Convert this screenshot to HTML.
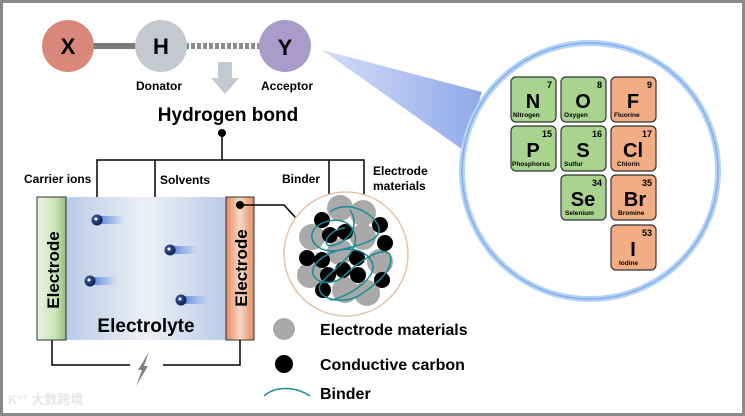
<!DOCTYPE html>
<html><head><meta charset="utf-8"><style>
html,body{margin:0;padding:0;background:#fff}
svg{display:block}
text{font-family:"Liberation Sans",Arial,sans-serif;font-weight:bold}
</style></head><body>
<svg width="745" height="416" viewBox="0 0 745 416" xmlns="http://www.w3.org/2000/svg">
<defs>
<linearGradient id="ely" x1="0" x2="1" y1="0" y2="0">
<stop offset="0" stop-color="#b9cbe8"/><stop offset="0.5" stop-color="#eef0f4"/><stop offset="1" stop-color="#b9cbe8"/></linearGradient>
<linearGradient id="gel" x1="0" x2="1"><stop offset="0" stop-color="#e8f3e0"/><stop offset="0.6" stop-color="#cfe6bf"/><stop offset="1" stop-color="#8fc07a"/></linearGradient>
<linearGradient id="oel" x1="0" x2="1"><stop offset="0" stop-color="#e58a5f"/><stop offset="0.5" stop-color="#f7d9c6"/><stop offset="1" stop-color="#e58a5f"/></linearGradient>
<linearGradient id="tail" x1="0" x2="1"><stop offset="0" stop-color="#3d6fd6" stop-opacity="0.9"/><stop offset="1" stop-color="#6c98e8" stop-opacity="0"/></linearGradient>
<linearGradient id="cone" x1="0" x2="1"><stop offset="0" stop-color="#cbd7f5"/><stop offset="1" stop-color="#7d9ae6"/></linearGradient>
<radialGradient id="ion" cx="0.35" cy="0.35" r="0.7"><stop offset="0" stop-color="#3b5fa8"/><stop offset="1" stop-color="#0a1d4f"/></radialGradient>
</defs>
<rect x="1.5" y="1.5" width="742" height="413" fill="#fff" stroke="#8a8a8a" stroke-width="3"/>

<!-- cone -->
<polygon points="322,50 482,92 463,150" fill="url(#cone)" opacity="0.85"/>
<!-- big circle -->
<circle cx="590" cy="171" r="128" fill="#fff" stroke="#b6d2f5" stroke-width="6"/>
<circle cx="590" cy="171" r="128" fill="none" stroke="#7fb0ee" stroke-width="1.5"/>

<!-- molecule -->
<rect x="90" y="43" width="50" height="6" fill="#7a7a7a"/>
<line x1="185" y1="46" x2="262" y2="46" stroke="#8a8a8a" stroke-width="6" stroke-dasharray="4,2"/>
<circle cx="68" cy="46" r="26" fill="#d9877a"/>
<circle cx="161" cy="46" r="26" fill="#c5c9cf"/>
<circle cx="285" cy="46" r="26" fill="#a99cc9"/>
<text x="68" y="54" font-size="22" text-anchor="middle">X</text>
<text x="161" y="54" font-size="22" text-anchor="middle">H</text>
<text x="285" y="55" font-size="22" text-anchor="middle">Y</text>
<text x="159" y="90" font-size="12" text-anchor="middle">Donator</text>
<text x="287" y="90" font-size="12" text-anchor="middle">Acceptor</text>
<polygon points="218,62 232,62 232,78 239,78 225,94 211,78 218,78" fill="#c3c9d1"/>
<text x="228" y="121" font-size="19" text-anchor="middle">Hydrogen bond</text>

<!-- tree -->
<circle cx="222" cy="133" r="4" fill="#000"/>
<g stroke="#000" stroke-width="1.5" fill="none">
<line x1="222" y1="133" x2="222" y2="160"/>
<polyline points="97,214 97,160 364,160 364,205"/>
<line x1="155" y1="160" x2="155" y2="222"/>
<line x1="329" y1="160" x2="329" y2="205"/>
</g>
<polygon points="93,212 101,212 97,219" fill="#000"/>
<polygon points="151,220 159,220 155,227" fill="#000"/>
<polygon points="325,201 333,201 329,209" fill="#000"/>
<polygon points="360,201 368,201 364,209" fill="#000"/>
<text x="24" y="183" font-size="12">Carrier ions</text>
<text x="160" y="184" font-size="12">Solvents</text>
<text x="282" y="183" font-size="12">Binder</text>
<text x="373" y="175" font-size="12">Electrode</text>
<text x="373" y="190" font-size="12">materials</text>

<!-- cell -->
<rect x="66" y="197" width="160" height="143" fill="url(#ely)"/>
<rect x="37" y="197" width="29" height="143" fill="url(#gel)" stroke="#333" stroke-width="1"/>
<rect x="226" y="197" width="28" height="143" fill="url(#oel)" stroke="#333" stroke-width="1"/>
<text transform="translate(59,270) rotate(-90)" font-size="17" text-anchor="middle">Electrode</text>
<text transform="translate(247,268) rotate(-90)" font-size="17" text-anchor="middle">Electrode</text>
<text x="146" y="332" font-size="19" text-anchor="middle">Electrolyte</text>
<g>
<rect x="97" y="216" width="28" height="8" rx="4" fill="url(#tail)"/>
<rect x="170" y="246" width="28" height="8" rx="4" fill="url(#tail)"/>
<rect x="90" y="277" width="28" height="8" rx="4" fill="url(#tail)"/>
<rect x="181" y="296" width="28" height="8" rx="4" fill="url(#tail)"/>
<circle cx="97" cy="220" r="5.5" fill="url(#ion)"/>
<circle cx="170" cy="250" r="5.5" fill="url(#ion)"/>
<circle cx="90" cy="281" r="5.5" fill="url(#ion)"/>
<circle cx="181" cy="300" r="5.5" fill="url(#ion)"/>
<g fill="#fff"><circle cx="96" cy="219" r="1.5"/><circle cx="169" cy="249" r="1.5"/><circle cx="89" cy="280" r="1.5"/><circle cx="180" cy="299" r="1.5"/></g>
</g>
<circle cx="240" cy="205" r="4" fill="#000"/>
<polyline points="240,205 284,205 296,218" fill="none" stroke="#000" stroke-width="1.5"/>
<polyline points="52,340 52,365 130,365" fill="none" stroke="#000" stroke-width="1.5"/>
<polyline points="163,365 240,365 240,340" fill="none" stroke="#000" stroke-width="1.5"/>
<polygon points="149,352 144,366 148,366 136,386 142,370 138,370" fill="#808080"/>

<!-- particle -->
<circle cx="346" cy="254" r="62" fill="#fff" stroke="#e5c3a8" stroke-width="1.5"/>
<g fill="#a9a9a9">
<circle cx="340" cy="208" r="13"/><circle cx="363" cy="213" r="13"/><circle cx="312" cy="237" r="13"/>
<circle cx="363" cy="237" r="13"/><circle cx="340" cy="252" r="13"/><circle cx="380" cy="262" r="13"/>
<circle cx="310" cy="275" r="13"/><circle cx="345" cy="290" r="13"/><circle cx="367" cy="293" r="13"/>
</g>
<g fill="#000">
<circle cx="322" cy="220" r="8"/><circle cx="330" cy="235" r="8"/><circle cx="345" cy="232" r="8"/>
<circle cx="380" cy="225" r="8"/><circle cx="385" cy="243" r="8"/><circle cx="307" cy="258" r="8"/>
<circle cx="322" cy="260" r="8"/><circle cx="357" cy="258" r="8"/><circle cx="343" cy="270" r="8"/>
<circle cx="328" cy="275" r="8"/><circle cx="358" cy="275" r="8"/><circle cx="382" cy="280" r="8"/>
<circle cx="323" cy="290" r="8"/>
</g>
<g fill="none" stroke="#1a8a96" stroke-width="1.5">
<path d="M330,212 C345,200 370,210 378,225 C385,240 360,245 340,250 C320,255 305,240 315,228 C325,218 350,215 355,235 C360,255 330,270 320,285 C315,300 345,305 360,295 C375,285 395,270 390,255 C385,245 360,260 345,275 C330,290 305,280 315,265 C325,250 360,240 372,262 C380,280 340,300 330,300"/>
<path d="M350,210 C360,225 350,240 335,245 C320,250 325,230 345,228"/>
</g>

<!-- legend -->
<circle cx="284" cy="329" r="11" fill="#a9a9a9"/>
<circle cx="284" cy="364" r="9" fill="#000"/>
<path d="M264,396 C275,386 295,386 310,396" fill="none" stroke="#1a8a96" stroke-width="1.5"/>
<text x="320" y="335" font-size="16">Electrode materials</text>
<text x="320" y="370" font-size="16">Conductive carbon</text>
<text x="320" y="399" font-size="16">Binder</text>

<!-- watermark -->
<text x="8" y="404" font-size="13" fill="#e6e6e6" style="font-family:'Liberation Sans','Noto Sans CJK SC',sans-serif">K°° 大数跨境</text>

<!-- periodic tiles -->
<g stroke="#333" stroke-width="1.2">
<rect x="511" y="77" width="45" height="45" rx="5" fill="#a9d48f"/>
<rect x="561" y="77" width="45" height="45" rx="5" fill="#a9d48f"/>
<rect x="611" y="77" width="45" height="45" rx="5" fill="#f3ad85"/>
<rect x="511" y="126" width="45" height="45" rx="5" fill="#a9d48f"/>
<rect x="561" y="126" width="45" height="45" rx="5" fill="#a9d48f"/>
<rect x="611" y="126" width="45" height="45" rx="5" fill="#f3ad85"/>
<rect x="561" y="175" width="45" height="45" rx="5" fill="#a9d48f"/>
<rect x="611" y="175" width="45" height="45" rx="5" fill="#f3ad85"/>
<rect x="611" y="225" width="45" height="45" rx="5" fill="#f3ad85"/>
</g>
<g font-size="9" text-anchor="end">
<text x="552" y="88">7</text><text x="602" y="88">8</text><text x="652" y="88">9</text>
<text x="552" y="137">15</text><text x="602" y="137">16</text><text x="652" y="137">17</text>
<text x="602" y="186">34</text><text x="652" y="186">35</text><text x="652" y="236">53</text>
</g>
<g font-size="20" text-anchor="middle">
<text x="533" y="108">N</text><text x="583" y="108">O</text><text x="633" y="108">F</text>
<text x="533" y="157">P</text><text x="583" y="157">S</text><text x="633" y="157">Cl</text>
<text x="583" y="206">Se</text><text x="635" y="206">Br</text><text x="633" y="256">I</text>
</g>
<g font-size="6.5">
<text x="513" y="117">Nitrogen</text><text x="564" y="117">Oxygen</text><text x="614" y="117">Fluorine</text>
<text x="512" y="166">Phosphorus</text><text x="564" y="166">Sulfur</text><text x="617" y="166">Chlorin</text>
<text x="565" y="215">Selenium</text><text x="618" y="215">Bromine</text><text x="619" y="265">Iodine</text>
</g>
</svg>
</body></html>
